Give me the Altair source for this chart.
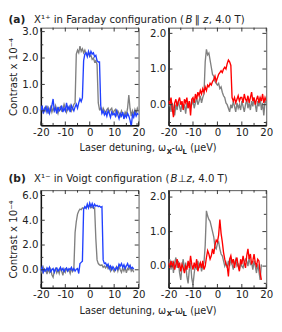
import altair as alt
import pandas as pd

FONT = "DejaVu Sans"
TXT = "#222222"
TICK = "#333333"
GRAY = "#808080"
BLUE = "#2040ff"
RED = "#ff0000"

# detuning grids (µeV), 0.5 µeV steps
det_a = [round(-20 + 0.5 * i, 1) for i in range(81)]
det_b = [round(-20 + 0.5 * i, 1) for i in range(77)]

# (a) X1+ Faraday, left panel
gray_a1 = [0.05, 0.15, -0.05, 0.1, 0.0, 0.2, -0.1, 0.05, 0.15, -0.05,
           0.1, 0.0, 0.2, 0.05, -0.1, 0.1, 0.15, 0.0, 0.05, 0.25,
           0.1, -0.05, 0.15, 0.05, 0.2, 0.0, 0.1, 0.25, 0.3, 2.15,
           2.3, 2.2, 2.45, 2.25, 2.35, 2.2, 2.3, 2.15, 2.1, 2.2,
           2.05, 2.1, 1.95, 2.0, 1.85, 1.9, 1.75, 0.3, 0.05, 0.1,
           -0.05, 0.1, 0.0, -0.1, 0.05, 0.1, -0.05, 0.05, 0.1, -0.1,
           0.0, 0.05, -0.15, 0.0, -0.1, -0.2, 0.0, -0.1, -0.25, -0.05,
           -0.15, 0.1, 0.6, 0.1, -0.2, 0.0, -0.15, 0.05, -0.1, 0.1,
           0.0]
blue_a1 = [0.0, 0.2, -0.1, 0.05, 0.15, -0.05, 0.1, -0.1, 0.05, 0.2,
           0.45, 0.0, 0.1, -0.1, 0.15, 0.0, 0.05, 0.2, -0.05, 0.1,
           0.0, 0.3, 0.05, 0.15, -0.05, 0.2, 0.1, 0.0, 0.15, 0.25,
           0.1, 0.3, 0.45, 0.35, 0.5, 1.9, 2.15, 2.2, 2.05, 2.25,
           2.1, 2.25, 2.15, 2.2, 2.05, 2.1, 1.9, 1.85, 1.85, 0.2,
           -0.1, 0.0, -0.15, -0.05, -0.2, 0.0, -0.1, -0.25, -0.05, -0.15,
           -0.1, -0.2, 0.0, -0.15, -0.3, -0.1, -0.2, -0.05, -0.3, -0.15,
           -0.25, -0.1, -0.2, -0.35, -0.6, -0.15, -0.25, -0.05, -0.2, -0.1,
           -0.15]
# (a) right panel
gray_a2 = [-0.05, 0.1, -0.2, 0.05, -0.1, -0.3, 0.0, -0.15, 0.1, -0.05,
           -0.2, 0.05, -0.1, 0.0, -0.25, 0.05, -0.1, 0.1, -0.05, 0.0,
           0.15, -0.1, 0.05, 0.2, 0.0, 0.1, 0.25, 0.05, 0.2, 0.3,
           1.2, 1.55, 1.4, 1.45, 1.25, 1.05, 0.85, 0.8, 0.65, 0.6,
           0.55, 0.6, 0.45, 0.5, 0.35, 0.25, 0.2, 0.05, 0.0, -0.1,
           -0.2, 0.0, -0.1, 0.1, -0.05, -0.2, 0.05, -0.1, 0.0, -0.15,
           0.1, -0.05, -0.2, 0.0, 0.15, -0.1, 0.05, -0.15, 0.1, -0.05,
           0.2, 0.0, -0.2, 0.1, -0.05, 0.2, -0.15, 0.05, -0.3, 0.1,
           0.05]
red_a2 = [0.1, 0.0, 0.2, -0.1, -0.35, 0.05, 0.15, -0.05, 0.1, 0.2,
          0.0, 0.1, -0.15, 0.15, 0.05, 0.2, -0.1, 0.1, -0.3, 0.15,
          0.2, 0.05, 0.3, 0.15, 0.35, 0.25, 0.4, 0.3, 0.45, 0.35,
          0.5, 0.4, 0.55, 0.5, 0.6, 0.55, 0.65, 0.7, 0.8, 0.65,
          0.75, 0.85, 0.9, 0.95, 0.9, 1.0, 1.05, 1.0, 1.15, 1.25,
          1.2, 1.1, 0.2, 0.1, 0.2, 0.05, 0.15, 0.25, 0.1, 0.2,
          0.2, 0.05, 0.3, 0.15, 0.1, 0.25, 0.05, 0.2, 0.35, 0.1,
          0.2, 0.0, 0.15, 0.25, 0.05, 0.2, 0.1, 0.3, 0.05, 0.2,
          0.1]

# (b) X1- Voigt, left panel
gray_b1 = [0.1, -0.3, 0.2, -0.1, 0.0, -0.35, 0.15, -0.2, 0.05, -0.4,
           -0.6, -0.1, 0.1, -0.25, 0.0, -0.3, 0.15, -0.1, -0.45, 0.05,
           -0.2, 0.1, -0.1, 0.0, -0.3, 0.1, -0.15, 0.05, 3.0, 3.9,
           4.5, 4.75, 4.9, 4.85, 5.0, 4.95, 5.05, 5.0, 5.15, 5.05,
           5.2, 5.0, 5.1, 4.95, 5.0, 2.5, 0.8, 0.5, 0.4, 0.35,
           0.4, 0.2, 0.3, 0.15, 0.35, 0.1, 0.25, -0.1, 0.2, 0.05,
           -0.15, 0.1, 0.25, -0.1, 0.3, 0.0, -0.2, 0.15, -0.1, 0.2,
           -0.25, 0.1, 0.0, 0.3, -0.1, 0.05, -0.2]
blue_b1 = [-0.1, 0.2, -0.2, 0.05, -0.1, 0.15, -0.05, 0.2, -0.15, 0.0,
           0.1, -0.2, 0.05, 0.15, -0.1, 0.0, 0.2, -0.05, 0.1, -0.15,
           0.05, 0.15, -0.1, 0.1, 0.0, 0.2, -0.05, 0.1, -0.1, 0.05,
           0.1, -0.3, 0.5, 0.6, 0.7, 4.9, 5.1, 4.95, 5.3, 5.0,
           5.4, 5.1, 5.35, 5.05, 5.3, 5.15, 5.2, 5.1, 5.15, 5.05,
           5.1, 0.8, 0.5, 0.55, 0.3, 0.45, 0.1, 0.3, 0.0, 0.25,
           0.1, -0.05, 0.2, 0.05, 0.45, 0.3, 0.5, 0.2, 0.4, 0.1,
           0.3, 0.5, 0.2, 0.35, 0.1, 0.2, 0.05]
# (b) right panel
gray_b2 = [0.05, 0.2, -0.1, 0.15, -0.2, 0.1, 0.25, -0.05, 0.15, -0.2,
           -0.4, 0.0, 0.2, -0.15, 0.1, -0.3, -0.5, -0.1, 0.1, -0.35,
           -0.55, -0.2, 0.05, -0.1, 0.15, -0.05, 0.1, -0.15, 0.0, 0.1,
           0.6, 1.6, 1.45, 1.35, 1.3, 1.15, 1.0, 0.85, 0.55, 0.5,
           0.65, 0.7, 0.5, 0.35, 0.3, 0.15, 0.0, 0.1, -0.05, 0.15,
           0.0, 0.2, 0.05, -0.1, 0.1, 0.2, 0.0, 0.05, -0.1, 0.1,
           0.0, -0.05, 0.1, 0.2, 0.15, 0.0, 0.25, 0.05, 0.1, -0.1,
           0.15, 0.0, -0.2, 0.05, -0.15, -0.4, 0.05]
red_b2 = [0.1, -0.05, 0.15, 0.0, 0.1, -0.1, 0.05, 0.2, -0.05, 0.1,
          -0.15, 0.05, -0.05, -0.2, 0.0, -0.1, 0.15, -0.05, 0.3, 0.05,
          -0.1, 0.1, -0.05, 0.2, -0.15, 0.0, 0.1, -0.05, 0.15, -0.1,
          0.0, 0.25, 0.45, 0.35, 0.2, 0.3, 0.5, 0.35, 0.6, 0.75,
          0.7, 0.9, 1.35, 0.95, 0.7, 0.4, 0.2, 0.05, 0.0, -0.3,
          0.2, 0.3, 0.1, 0.2, -0.05, 0.15, 0.25, 0.0, -0.15, 0.2,
          0.05, 0.3, 0.1, -0.05, 0.3, 0.5, 0.2, 0.35, 0.05, 0.15,
          0.35, 0.1, 0.0, 0.2, 0.15, -0.2, -0.4]

x_major = [-20, -10, 0, 10, 20]
x_minor = [-15, -5, 5, 15]

W = 101
H = 101


def txt(s, x, y, size=10.5, weight="normal", style="normal"):
    return alt.Chart(pd.DataFrame({"s": [s]})).mark_text(
        align="left", baseline="alphabetic", font=FONT, fontSize=size,
        fontWeight=weight, fontStyle=style, color=TXT
    ).encode(text="s:N", x=alt.value(x), y=alt.value(y))


def panel(xv, gray, col, color, ydom, ymaj, ymin, ytitle, texts):
    xs = alt.Scale(domain=[-20, 20], nice=False, zero=False)
    ys = alt.Scale(domain=ydom, nice=False, zero=False)
    xaxis = alt.Axis(values=x_major, labelExpr="'' + datum.value", ticks=False,
                     grid=False, title=None, domainColor="#111111", domainWidth=1.5,
                     labelFont=FONT, labelFontSize=10.5, labelColor=TXT,
                     labelPadding=2, labelFlush=False, labelOverlap=False)
    if ytitle:
        yaxis = alt.Axis(values=ymaj, format=".1f", ticks=False, grid=False,
                         title=ytitle, titleFont=FONT, titleFontSize=10.5,
                         titleFontWeight="normal", titleColor=TXT, titlePadding=3.5,
                         domainColor="#111111", domainWidth=1.5,
                         labelFont=FONT, labelFontSize=10.5, labelColor=TXT,
                         labelPadding=3, labelOverlap=False)
    else:
        yaxis = alt.Axis(values=ymaj, format=".1f", ticks=False, grid=False,
                         title=None, domainColor="#111111", domainWidth=1.5,
                         labelFont=FONT, labelFontSize=10.5, labelColor=TXT,
                         labelPadding=3, labelOverlap=False)
    g = alt.Chart(pd.DataFrame({"d": xv, "v": gray})).mark_line(
        color=GRAY, strokeWidth=1.4, clip=True).encode(
        x=alt.X("d:Q", scale=xs, axis=xaxis), y=alt.Y("v:Q", scale=ys, axis=yaxis))
    c = alt.Chart(pd.DataFrame({"d": xv, "v": col})).mark_line(
        color=color, strokeWidth=1.4, clip=True).encode(
        x=alt.X("d:Q", scale=xs, axis=xaxis), y=alt.Y("v:Q", scale=ys, axis=yaxis))
    layers = [g, c]
    for vals, L in ((x_major, 4), (x_minor, 2.5)):
        d = pd.DataFrame({"t": vals})
        ex = alt.X("t:Q", scale=xs, axis=xaxis)
        layers.append(alt.Chart(d).mark_rule(color=TICK, strokeWidth=1).encode(
            x=ex, y=alt.value(H), y2=alt.value(H - L)))
        layers.append(alt.Chart(d).mark_rule(color=TICK, strokeWidth=1).encode(
            x=ex, y=alt.value(0), y2=alt.value(L)))
    for vals, L in ((ymaj, 4), (ymin, 2.5)):
        d = pd.DataFrame({"t": vals})
        ey = alt.Y("t:Q", scale=ys, axis=yaxis)
        layers.append(alt.Chart(d).mark_rule(color=TICK, strokeWidth=1).encode(
            y=ey, x=alt.value(0), x2=alt.value(L)))
        layers.append(alt.Chart(d).mark_rule(color=TICK, strokeWidth=1).encode(
            y=ey, x=alt.value(W), x2=alt.value(W - L)))
    layers += texts
    return alt.layer(*layers).properties(width=W, height=H)


def xtitle_texts():
    yb = H + 27
    return [
        txt("Laser detuning, \u03c9", 40, yb, size=10),
        txt("X", 130, yb + 2.5, size=7, weight="bold"),
        txt("-\u03c9", 135, yb, size=10),
        txt("L", 146.5, yb + 2.5, size=7, weight="bold"),
        txt("(\u03bceV)", 154.5, yb, size=10),
    ]


title_a = [
    txt("(a)", -33.5, -5, size=11, weight="bold"),
    txt("X\u00b9\u207a in Faraday configuration (", -7, -5),
    txt("B", 149.5, -5, style="italic"),
    txt("\u2016", 159, -5),
    txt("z", 167.5, -5, style="italic"),
    txt(", 4.0 T)", 173.5, -5),
]
title_b = [
    txt("(b)", -33.5, -8.5, size=11, weight="bold"),
    txt("X\u00b9\u207b in Voigt configuration (", -7, -8.5),
    txt("B", 134, -8.5, style="italic"),
    txt("\u22a5", 141.5, -8.5),
    txt("z", 150.5, -8.5, style="italic"),
    txt(", 4.0 T)", 156, -8.5),
]

YT = "Contrast x 10\u207b\u2074"

pa1 = panel(det_a, gray_a1, blue_a1, BLUE, [-0.55, 3.15], [0, 1, 2, 3],
            [-0.5, 0.5, 1.5, 2.5], YT, title_a + xtitle_texts())
pa2 = panel(det_a, gray_a2, red_a2, RED, [-0.58, 2.16], [0, 1, 2],
            [-0.5, 0.5, 1.5], None, [])
pb1 = panel(det_b, gray_b1, blue_b1, BLUE, [-1.46, 6.43], [0, 2, 4, 6],
            [-1, 1, 3, 5], YT, title_b + xtitle_texts())
pb2 = panel(det_b, gray_b2, red_b2, RED, [-0.63, 2.2], [0, 1, 2],
            [-0.5, 0.5, 1.5], None, [])

chart = alt.concat(
    pa1, pa2, pb1, pb2, columns=2,
    spacing={"row": 67, "column": 31}, bounds="flush", padding=0
).configure_view(stroke="#555555", strokeWidth=1)

chart.save("out.html", embed_options={"renderer": "svg", "actions": False})
